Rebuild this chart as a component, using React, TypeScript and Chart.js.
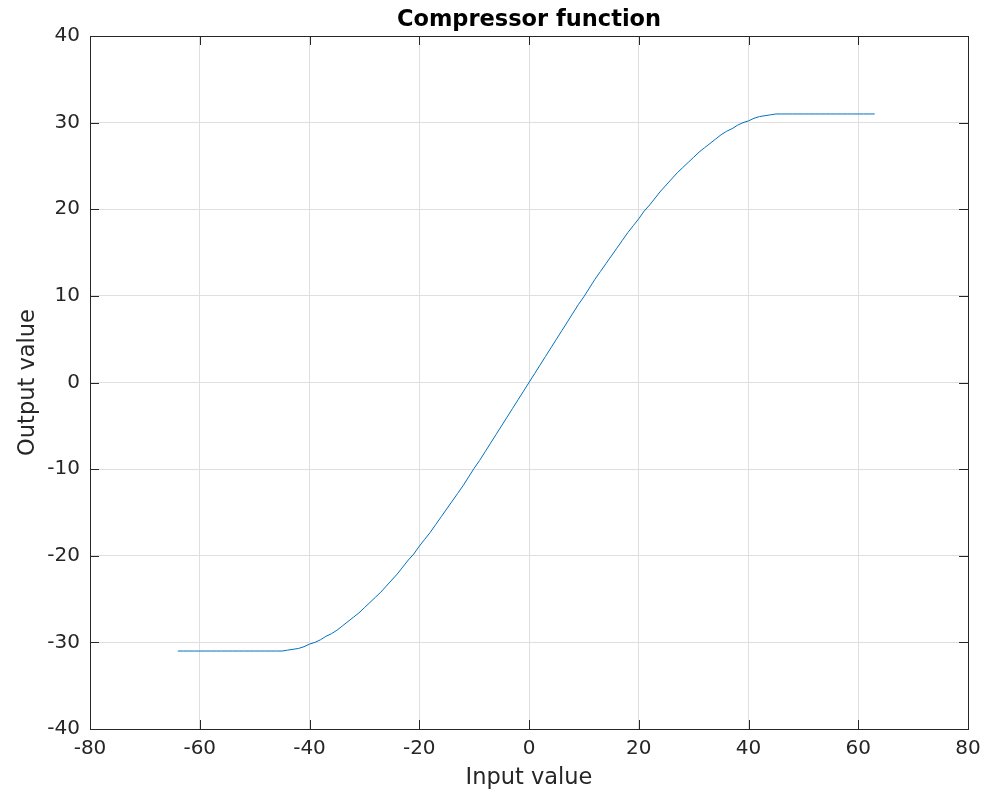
import React, { useEffect, useRef } from "react";
import { Chart, registerables } from "chart.js";

Chart.register(...registerables);

const inputValues = [
  -64, -63, -62, -61, -60, -59, -58, -57, -56, -55, -54, -53, -52, -51, -50, -49, -48, -47, -46,
  -45, -44, -43, -42, -41, -40, -39, -38, -37, -36, -35, -34, -33, -32, -31, -30, -29, -28, -27,
  -26, -25, -24, -23, -22, -21, -20, -19, -18, -17, -16, -15, -14, -13, -12, -11, -10, -9, -8,
  -7, -6, -5, -4, -3, -2, -1, 0, 1, 2, 3, 4, 5, 6, 7, 8, 9, 10, 11, 12, 13, 14, 15, 16, 17, 18,
  19, 20, 21, 22, 23, 24, 25, 26, 27, 28, 29, 30, 31, 32, 33, 34, 35, 36, 37, 38, 39, 40, 41, 42,
  43, 44, 45, 46, 47, 48, 49, 50, 51, 52, 53, 54, 55, 56, 57, 58, 59, 60, 61, 62, 63,
];

const outputValues = [
  -31, -31, -31, -31, -31, -31, -31, -31, -31, -31, -31, -31, -31, -31, -31, -31, -31, -31, -31,
  -31.0, -30.9, -30.8, -30.7, -30.5, -30.2, -30.0, -29.7, -29.3, -29.0, -28.6, -28.1, -27.6, -27.1,
  -26.6, -26.0, -25.4, -24.8, -24.2, -23.5, -22.8, -22.1, -21.3, -20.5, -19.8, -18.9, -18.1, -17.3,
  -16.4, -15.5, -14.6, -13.7, -12.8, -11.9, -10.9, -9.9, -9.0, -8.0, -7.0, -6.0, -5.0, -4.0, -3.0,
  -2.0, -1.0, 0, 1.0, 2.0, 3.0, 4.0, 5.0, 6.0, 7.0, 8.0, 9.0, 9.9, 10.9, 11.9, 12.8, 13.7, 14.6,
  15.5, 16.4, 17.3, 18.1, 18.9, 19.8, 20.5, 21.3, 22.1, 22.8, 23.5, 24.2, 24.8, 25.4, 26.0, 26.6,
  27.1, 27.6, 28.1, 28.6, 29.0, 29.3, 29.7, 30.0, 30.2, 30.5, 30.7, 30.8, 30.9, 31.0, 31, 31, 31,
  31, 31, 31, 31, 31, 31, 31, 31, 31, 31, 31, 31, 31, 31, 31,
];

const xTicks = [-80, -60, -40, -20, 0, 20, 40, 60, 80];
const yTicks = [-40, -30, -20, -10, 0, 10, 20, 30, 40];

const titleText = "Compressor function";
const xLabel = "Input value";
const yLabel = "Output value";

const FONT = "'DejaVu Sans', sans-serif";
const AXIS_COLOR = "#262626";

const decorPlugin = {
  id: "matlabDecor",
  afterDraw(chart: any) {
    const ctx = chart.ctx;
    const { left, right, top, bottom } = chart.chartArea;
    const xs = chart.scales.x;
    const ys = chart.scales.y;
    const a = (v: number) => Math.round(v) + 0.5;
    ctx.save();
    ctx.strokeStyle = AXIS_COLOR;
    ctx.lineWidth = 1;
    const tl = 9;
    ctx.beginPath();
    xTicks.forEach((t) => {
      const px = a(xs.getPixelForValue(t));
      ctx.moveTo(px, bottom);
      ctx.lineTo(px, bottom - tl);
      ctx.moveTo(px, top);
      ctx.lineTo(px, top + tl);
    });
    yTicks.forEach((t) => {
      const py = a(ys.getPixelForValue(t));
      ctx.moveTo(left, py);
      ctx.lineTo(left + tl, py);
      ctx.moveTo(right, py);
      ctx.lineTo(right - tl, py);
    });
    ctx.stroke();
    ctx.strokeRect(a(left), a(top), Math.round(right - left), Math.round(bottom - top));

    ctx.fillStyle = "#000000";
    ctx.font = `bold 22.5px ${FONT}`;
    ctx.textAlign = "center";
    ctx.textBaseline = "middle";
    ctx.fillText(titleText, (left + right) / 2, 20);

    ctx.fillStyle = AXIS_COLOR;
    ctx.font = `22.5px ${FONT}`;
    ctx.fillText(xLabel, (left + right) / 2, 778);

    ctx.translate(28, (top + bottom) / 2);
    ctx.rotate(-Math.PI / 2);
    ctx.fillText(yLabel, 0, 0);
    ctx.restore();
  },
};

export default function App() {
  const canvasRef = useRef<HTMLCanvasElement | null>(null);

  useEffect(() => {
    if (!canvasRef.current) return;
    const points = inputValues.map((x, i) => ({ x, y: outputValues[i] }));
    const chart = new Chart(canvasRef.current, {
      type: "line",
      data: {
        datasets: [
          {
            data: points,
            borderColor: "#0072BD",
            borderWidth: 1,
            pointRadius: 0,
            fill: false,
            tension: 0,
          },
        ],
      },
      options: {
        animation: false,
        responsive: false,
        maintainAspectRatio: false,
        layout: { padding: { top: 36, right: 27, left: 0, bottom: 0 } },
        plugins: {
          legend: { display: false },
          tooltip: { enabled: false },
          title: { display: false },
        },
        scales: {
          x: {
            type: "linear",
            min: -80,
            max: 80,
            afterBuildTicks: (scale: any) => {
              scale.ticks = xTicks.map((v) => ({ value: v }));
            },
            afterFit: (scale: any) => {
              scale.height = 63;
            },
            grid: { color: "#dfdfdf", lineWidth: 1, drawTicks: false },
            border: { display: false },
            ticks: {
              color: AXIS_COLOR,
              font: { family: FONT, size: 20 },
              padding: 8,
              maxRotation: 0,
              autoSkip: false,
            },
          },
          y: {
            type: "linear",
            min: -40,
            max: 40,
            afterBuildTicks: (scale: any) => {
              scale.ticks = yTicks.map((v) => ({ value: v }));
            },
            afterFit: (scale: any) => {
              scale.width = 90;
            },
            grid: { color: "#dfdfdf", lineWidth: 1, drawTicks: false },
            border: { display: false },
            ticks: {
              color: AXIS_COLOR,
              font: { family: FONT, size: 20 },
              padding: 10,
              autoSkip: false,
            },
          },
        },
      },
      plugins: [decorPlugin],
    });
    return () => chart.destroy();
  }, []);

  return (
    <div style={{ position: "absolute", left: 0, top: 0, width: 995, height: 792, background: "#ffffff" }}>
      <canvas ref={canvasRef} width={995} height={792} style={{ display: "block" }} />
    </div>
  );
}
